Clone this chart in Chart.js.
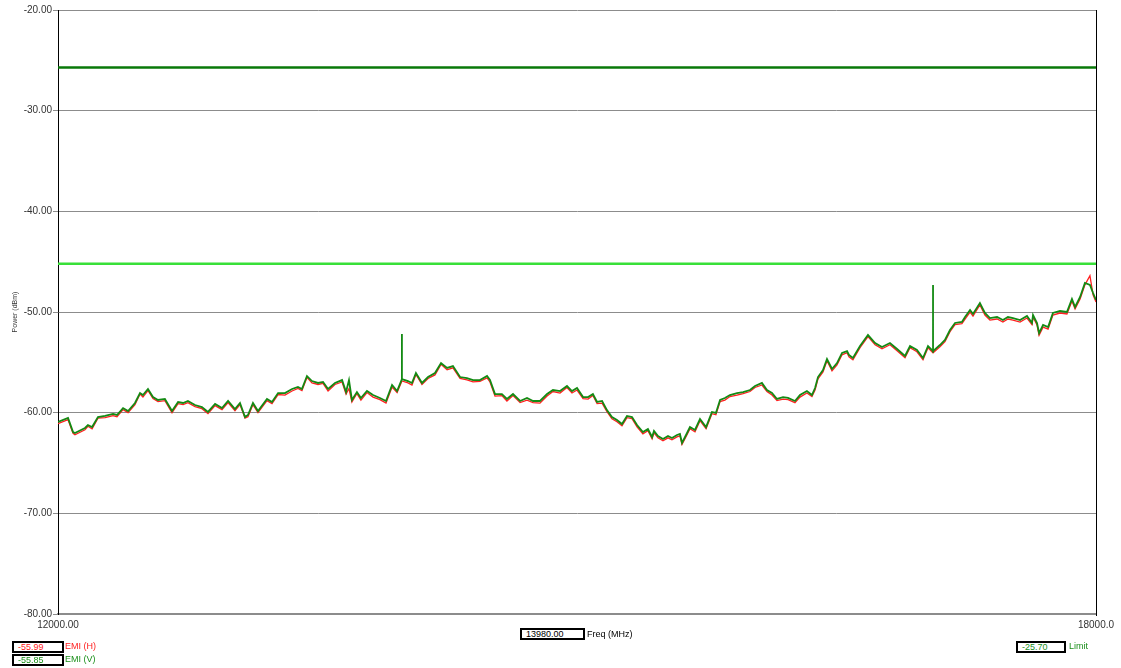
<!DOCTYPE html>
<html>
<head>
<meta charset="utf-8">
<script src="https://cdn.jsdelivr.net/npm/chart.js@4.4.0/dist/chart.umd.min.js"></script>
<style>
  body { margin: 0; background: #fff; }
  #wrap { position: relative; width: 1121px; height: 668px; }
  .box {
    position: absolute; height: 8px; padding-left: 4px;
    border: 2px solid #000; background: #fff;
    font: 9px "Liberation Sans", Arial, sans-serif; line-height: 8px;
    white-space: nowrap;
  }
  .lab {
    position: absolute;
    font: 9px "Liberation Sans", Arial, sans-serif; line-height: 12px;
    white-space: nowrap;
  }
</style>
</head>
<body>
<div id="wrap">
  <canvas id="emichart" width="1121" height="668"></canvas>
  <div class="box" id="boxH" style="left:12px;top:641px;width:44px;color:#ff2020;"></div>
  <div class="lab" style="left:65px;top:640px;color:#ff2020;">EMI (H)</div>
  <div class="box" id="boxV" style="left:12px;top:654px;width:44px;color:#1a8f1a;"></div>
  <div class="lab" style="left:65px;top:653px;color:#1a8f1a;">EMI (V)</div>
  <div class="box" id="boxF" style="left:520px;top:628px;width:57px;color:#000;"></div>
  <div class="lab" style="left:587px;top:628px;color:#000;">Freq (MHz)</div>
  <div class="box" id="boxL" style="left:1016px;top:641px;width:42px;color:#1a8f1a;"></div>
  <div class="lab" style="left:1069px;top:640px;color:#1a8f1a;">Limit</div>
</div>
<script>
// frequency points (MHz), shared by both traces
const freqs = [12000,12058,12087,12098,12156,12173,12197,12231,12272,12318,
  12341,12376,12405,12445,12474,12491,12520,12549,12578,12618,
  12659,12694,12723,12751,12792,12832,12867,12908,12948,12983,
  13023,13052,13081,13098,13127,13156,13208,13237,13272,13312,
  13353,13387,13410,13439,13468,13503,13532,13561,13601,13642,
  13665,13682,13699,13728,13751,13786,13821,13861,13896,13931,
  13960,13988,13988,13988,14023,14046,14069,14104,14139,14179,
  14214,14249,14283,14324,14364,14399,14439,14480,14497,14526,
  14566,14595,14630,14671,14711,14746,14786,14827,14861,14902,
  14942,14971,15000,15035,15064,15092,15116,15145,15173,15202,
  15231,15260,15289,15318,15347,15381,15410,15434,15445,15468,
  15497,15526,15549,15578,15595,15607,15636,15653,15682,15711,
  15746,15780,15803,15827,15855,15884,15925,15960,16000,16029,
  16069,16098,16127,16156,16191,16220,16260,16289,16329,16358,
  16376,16393,16422,16445,16474,16503,16532,16561,16572,16595,
  16636,16682,16723,16763,16809,16850,16896,16925,16965,17000,
  17029,17058,17058,17058,17098,17127,17156,17185,17225,17243,
  17272,17289,17329,17358,17387,17428,17462,17491,17520,17561,
  17601,17630,17636,17659,17671,17694,17723,17751,17792,17832,
  17861,17879,17908,17936,17965,17983,18000];

// EMI (V) trace, dBm
const emiV = [-60.93,-60.53,-61.92,-62.02,-61.52,-61.23,-61.43,-60.43,-60.33,-60.13,
  -60.23,-59.54,-59.84,-59.04,-58.05,-58.25,-57.65,-58.45,-58.74,-58.64,
  -59.84,-58.94,-59.04,-58.84,-59.24,-59.44,-59.93,-59.14,-59.54,-58.84,
  -59.64,-59.04,-60.43,-60.23,-59.04,-59.84,-58.64,-58.94,-58.05,-58.05,
  -57.65,-57.45,-57.65,-56.36,-56.86,-57.05,-56.95,-57.65,-57.05,-56.76,
  -57.95,-56.76,-58.74,-57.95,-58.54,-57.85,-58.25,-58.54,-58.84,-57.25,
  -57.85,-56.66,-52.19,-56.66,-56.86,-57.05,-56.06,-57.05,-56.46,-56.06,
  -55.07,-55.56,-55.37,-56.46,-56.56,-56.76,-56.76,-56.36,-56.76,-58.15,
  -58.15,-58.64,-58.15,-58.84,-58.54,-58.84,-58.84,-58.15,-57.75,-57.85,
  -57.35,-57.85,-57.55,-58.45,-58.45,-58.15,-58.94,-58.84,-59.74,-60.43,
  -60.73,-61.13,-60.33,-60.43,-61.23,-61.92,-61.62,-62.42,-61.82,-62.32,
  -62.62,-62.32,-62.52,-62.22,-62.12,-63.01,-62.02,-61.43,-61.72,-60.63,
  -61.43,-59.93,-60.03,-58.74,-58.54,-58.25,-58.05,-57.95,-57.75,-57.35,
  -57.05,-57.75,-58.05,-58.64,-58.45,-58.54,-58.84,-58.25,-57.85,-58.25,
  -57.55,-56.46,-55.76,-54.67,-55.66,-55.07,-54.07,-53.88,-54.27,-54.57,
  -53.38,-52.29,-53.08,-53.48,-53.08,-53.68,-54.37,-53.38,-53.78,-54.57,
  -53.38,-53.88,-47.32,-53.88,-53.28,-52.78,-51.79,-51.09,-50.99,-50.50,
  -49.80,-50.20,-49.11,-50.10,-50.60,-50.50,-50.80,-50.50,-50.60,-50.80,
  -50.40,-51.09,-50.30,-51.09,-52.09,-51.29,-51.49,-50.10,-49.90,-50.00,
  -48.71,-49.50,-48.51,-47.12,-47.32,-48.11,-48.81];

// EMI (H) trace, dBm
const emiH = [-61.10,-60.70,-62.05,-62.20,-61.70,-61.35,-61.60,-60.55,-60.50,-60.30,
  -60.40,-59.70,-60.00,-59.20,-58.15,-58.45,-57.80,-58.60,-58.90,-58.80,
  -60.00,-59.10,-59.20,-59.00,-59.40,-59.60,-60.10,-59.30,-59.70,-59.00,
  -59.80,-59.20,-60.55,-60.40,-59.20,-60.00,-58.80,-59.10,-58.20,-58.25,
  -57.85,-57.60,-57.80,-56.50,-57.05,-57.20,-57.10,-57.85,-57.20,-56.95,
  -58.15,-57.60,-58.95,-58.10,-58.75,-58.00,-58.45,-58.70,-59.05,-57.45,
  -58.00,-56.85,-56.85,-56.85,-57.05,-57.25,-56.20,-57.20,-56.60,-56.25,
  -55.20,-55.75,-55.55,-56.60,-56.75,-56.95,-56.90,-56.55,-56.95,-58.35,
  -58.30,-58.85,-58.30,-59.00,-58.75,-59.00,-59.05,-58.35,-57.90,-58.05,
  -57.50,-58.05,-57.75,-58.60,-58.65,-58.30,-59.10,-59.05,-59.90,-60.60,
  -60.90,-61.30,-60.50,-60.60,-61.40,-62.10,-61.80,-62.60,-62.00,-62.50,
  -62.80,-62.50,-62.70,-62.40,-62.30,-63.15,-62.20,-61.60,-61.90,-60.80,
  -61.60,-60.10,-60.20,-58.90,-58.75,-58.40,-58.25,-58.10,-57.90,-57.50,
  -57.25,-57.90,-58.25,-58.80,-58.65,-58.70,-59.00,-58.45,-58.05,-58.40,
  -57.75,-56.65,-55.95,-54.85,-55.85,-55.25,-54.25,-54.05,-54.45,-54.75,
  -53.55,-52.45,-53.25,-53.65,-53.25,-53.85,-54.55,-53.55,-53.95,-54.75,
  -53.55,-54.05,-54.05,-54.05,-53.45,-52.95,-51.95,-51.25,-51.15,-50.70,
  -50.00,-50.40,-49.30,-50.30,-50.80,-50.70,-51.00,-50.70,-50.80,-51.00,
  -50.60,-51.25,-50.50,-51.30,-52.30,-51.50,-51.70,-50.30,-50.10,-50.20,
  -48.90,-49.70,-48.70,-47.30,-46.40,-48.30,-49.00];

// limit lines
const limitFreqs = [12000, 18000];
const limitUpper = [-25.70, -25.70];
const limitLower = [-45.20, -45.20];

// axis ticks
const yTicks = [-80, -70, -60, -50, -40, -30, -20];
const xTicks = [12000, 18000];
const xTickLabels = ['12000.00', '18000.0'];

// marker readout
const markerFreq = 13980.00;
const markerH = -55.99;
const markerV = -55.85;
const limitValue = -25.70;

document.getElementById('boxH').textContent = markerH.toFixed(2);
document.getElementById('boxV').textContent = markerV.toFixed(2);
document.getElementById('boxF').textContent = markerFreq.toFixed(2);
document.getElementById('boxL').textContent = limitValue.toFixed(2);

function pts(xs, ys) {
  return xs.map((x, i) => ({ x: x, y: ys[i] }));
}

// black frame line on the right side of the plot
const rightBorder = {
  id: 'rightBorder',
  afterDraw(chart) {
    const a = chart.chartArea;
    const c = chart.ctx;
    c.save();
    c.strokeStyle = '#000';
    c.lineWidth = 1;
    c.beginPath();
    c.moveTo(Math.round(a.right) + 0.5, a.top);
    c.lineTo(Math.round(a.right) + 0.5, a.bottom + 2);
    c.stroke();
    c.restore();
  }
};

const tickFont = { family: 'Liberation Sans', size: 10 };

const config = {
  type: 'line',
  data: {
    datasets: [
      {
        label: 'EMI (V)',
        data: pts(freqs, emiV),
        borderColor: '#138a13',
        borderWidth: 1.8,
        order: 0
      },
      {
        label: 'EMI (H)',
        data: pts(freqs, emiH),
        borderColor: '#ff2020',
        borderWidth: 1.3,
        order: 1
      },
      {
        label: 'Limit',
        data: pts(limitFreqs, limitUpper),
        borderColor: '#087808',
        borderWidth: 2.5,
        order: 2
      },
      {
        label: 'Limit 2',
        data: pts(limitFreqs, limitLower),
        borderColor: '#38e038',
        borderWidth: 2.5,
        order: 3
      }
    ]
  },
  options: {
    responsive: false,
    animation: false,
    parsing: false,
    elements: { point: { radius: 0 }, line: { tension: 0 } },
    layout: { padding: { top: 10, right: 25, left: 0, bottom: 0 } },
    plugins: {
      legend: { display: false },
      tooltip: { enabled: false }
    },
    scales: {
      x: {
        type: 'linear',
        min: 12000,
        max: 18000,
        afterBuildTicks: function(scale) {
          scale.ticks = xTicks.map(v => ({ value: v }));
        },
        afterFit: function(scale) { scale.height = 54; },
        ticks: {
          autoSkip: false,
          maxRotation: 0,
          padding: 5,
          color: '#333',
          font: tickFont,
          callback: function(value) {
            return xTickLabels[xTicks.indexOf(value)];
          }
        },
        grid: { color: 'transparent', drawTicks: false },
        border: { color: '#8c8c8c', width: 2 }
      },
      y: {
        min: -80,
        max: -20,
        afterBuildTicks: function(scale) {
          scale.ticks = yTicks.map(v => ({ value: v }));
        },
        afterFit: function(scale) { scale.width = 58; },
        ticks: {
          padding: 1,
          color: '#333',
          font: tickFont,
          callback: function(value) { return value.toFixed(2); }
        },
        grid: { color: '#8c8c8c', lineWidth: 1, tickLength: 5 },
        border: { color: '#000', width: 1 },
        title: {
          display: true,
          text: 'Power (dBm)',
          color: '#333',
          font: { family: 'Liberation Sans', size: 7 },
          padding: { top: 11, bottom: 0 }
        }
      }
    }
  },
  plugins: [rightBorder]
};

const ctx = document.getElementById('emichart').getContext('2d');
const chart = new Chart(ctx, config);
</script>
</body>
</html>
